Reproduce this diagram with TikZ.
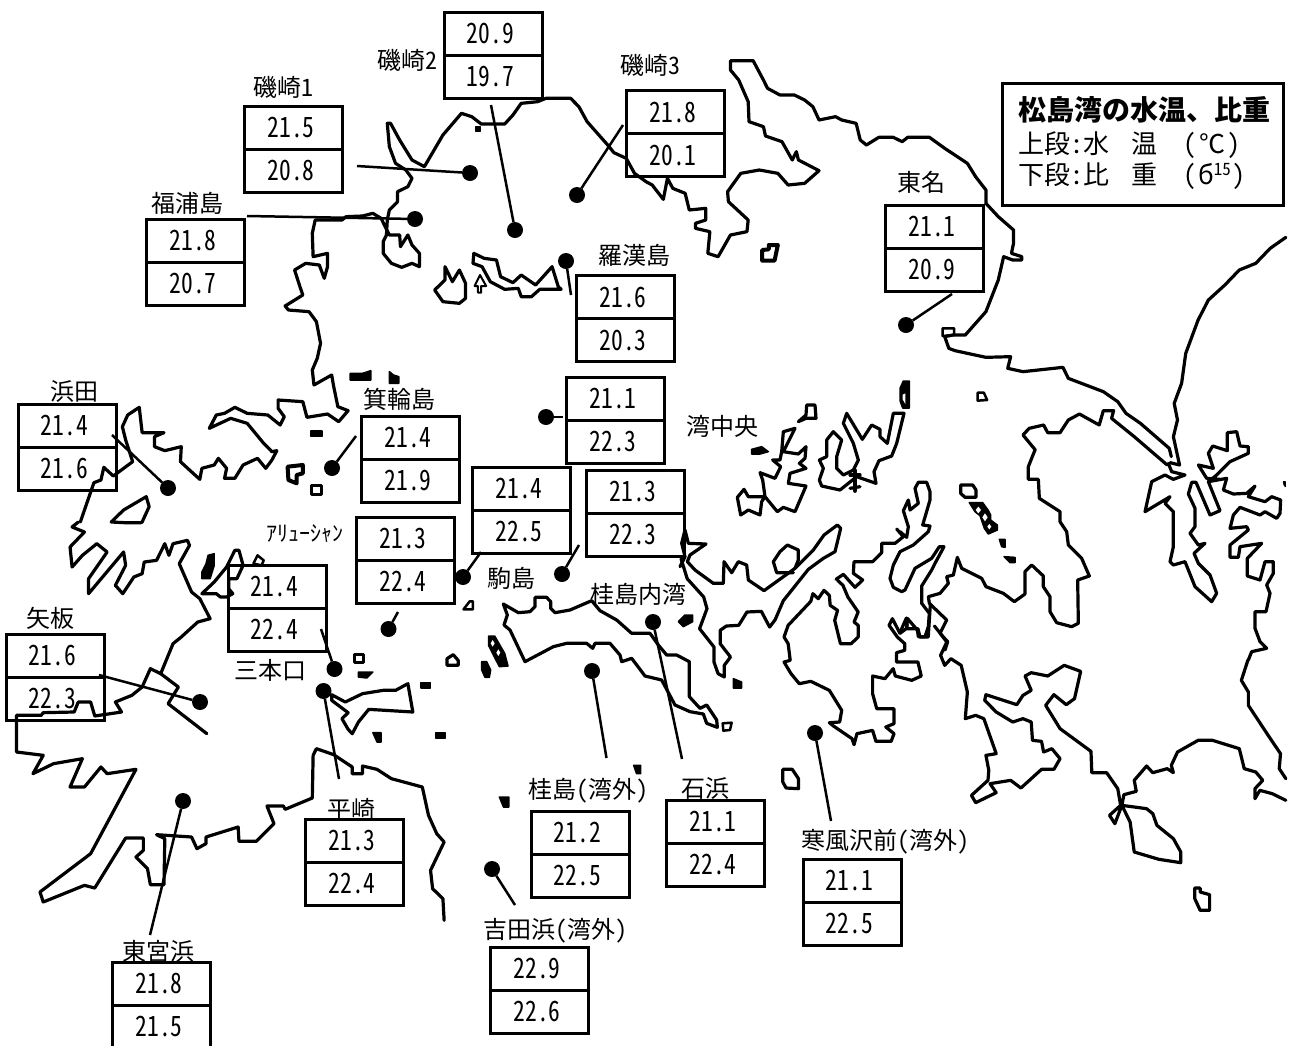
\documentclass[tikz,border=0pt]{standalone}
\usepackage{fontspec}
\setmainfont[RawFeature={+hwid}]{Noto Sans CJK JP}
\newfontfamily\numf[RawFeature={+hwid},FakeStretch=0.84]{Noto Sans CJK JP}
\newcommand\Pc[2]{\draw[coast,#1] plot coordinates {#2};}
\newcommand\Pz[2]{\draw[coast,#1] plot coordinates {#2} -- cycle;}
\newcommand\Pf[2]{\draw[coast,fill=black,line width=1.5pt,#1] plot coordinates {#2} -- cycle;}
\newcommand\Stn[5]{%
  \node[cell,anchor=south] (#1t) at (#2,#3) {\hspace*{-5pt}\raisebox{-1.5pt}{#4}};
  \node[cell,anchor=north] (#1b) at (#2,#3) {\hspace*{-5pt}\raisebox{-1.5pt}{#5}};}
\newcommand\Lead[3]{%
  \node[dot] (#1) at (#2) {};
  \coordinate (#1e) at (#3);
  \draw[leader] (#1) -- (#1e);}
\tikzset{
  coast/.style={line width=3.2pt,line join=round,line cap=round,black},
  leader/.style={line width=2.5pt,black},
  cell/.style={draw,line width=3pt,minimum width=98pt,minimum height=43pt,inner sep=0pt,outer sep=0pt,font=\numf\fontsize{28}{28}\selectfont},
  dot/.style={circle,fill=black,minimum size=16pt,inner sep=0pt,outer sep=0pt},
  lab/.style={inner sep=0pt,outer sep=0pt,font=\fontsize{24}{24}\selectfont},
  za/.style={x=0.412pt,y=-0.33333pt},
  zb/.style={x=0.412pt,y=-0.33333pt,shift={(646pt,0pt)}},
  zc/.style={x=0.412pt,y=-0.33333pt,shift={(0pt,-522pt)}},
  zd/.style={x=0.412pt,y=-0.33333pt,shift={(646pt,-522pt)}},
  ze/.style={x=0.33333pt,y=-0.33333pt,shift={(1090pt,-420pt)}},
  zf/.style={x=0.33333pt,y=-0.33333pt,shift={(680pt,-380pt)}},
  zg/.style={x=0.33333pt,y=-0.33333pt,shift={(900pt,-450pt)}},
  zh/.style={x=0.33333pt,y=-0.33333pt,shift={(480pt,-590pt)}},
}
\begin{document}
\begin{tikzpicture}[x=1pt,y=-1pt]
\useasboundingbox (0,0) rectangle (1292,1045);
% north-west shore
\Pc{za}{(1568,545) (1540,520) (1520,475) (1490,458) (1475,435) (1450,400) (1425,365) (1405,320) (1385,295) (1325,295) (1305,305) (1265,310) (1245,345) (1225,372) (1168,372) (1145,350) (1120,340) (1075,405) (1030,500) (1000,480) (970,420) (948,370) (940,370) (945,440) (960,490) (985,510) (1000,535) (990,560) (965,575) (965,605) (945,630) (940,660) (938,705) (930,725) (930,760) (950,790) (975,802) (1000,790) (1018,800) (1018,760) (1000,735) (990,705) (972,740) (970,705) (945,705) (925,655) (905,640) (880,648) (840,650) (830,660) (765,660) (758,700) (760,770) (795,760) (795,800) (787,835) (775,795) (742,790) (715,810) (728,860) (735,885) (692,918) (700,930) (750,935) (768,965) (778,1030) (770,1075) (758,1110) (762,1155) (805,1125) (810,1160) (820,1220) (845,1232) (822,1265) (795,1242) (745,1252) (735,1205) (675,1200) (675,1225) (690,1250) (680,1275) (650,1245) (600,1240) (570,1222) (545,1240) (525,1245) (508,1285) (560,1255) (600,1270) (640,1330) (660,1355) (672,1352) (660,1380) (645,1405) (625,1375) (590,1395) (570,1435) (545,1435) (550,1405) (530,1375) (520,1395) (490,1405) (485,1438) (460,1410) (438,1385) (440,1340) (400,1352) (375,1340) (375,1310) (398,1298) (345,1298) (338,1222) (310,1245) (297,1280) (305,1320) (322,1385) (275,1428) (252,1402) (245,1440) (228,1448) (205,1530) (195,1566)}
\Pc{zc}{(190,0) (175,15) (205,30) (170,75) (175,135) (200,100) (235,65) (260,90) (215,170) (215,215) (300,90) (305,130) (280,190) (298,215) (325,165) (345,155) (350,120) (380,115) (400,65) (410,100) (420,65) (455,55) (460,70) (435,125) (465,210) (485,230) (510,290) (480,300) (440,345) (420,365) (390,455) (365,440) (345,495) (320,520) (280,540) (295,570) (230,582) (220,540) (190,540) (180,570) (105,572) (100,580) (40,580) (40,690) (105,700) (80,755) (130,725) (200,710) (170,795) (205,795) (245,735) (260,755) (330,742) (220,995) (97,1110) (105,1140) (205,1090) (230,1098) (305,948) (348,948) (348,985) (330,1005) (358,1040) (365,1088) (398,1088) (400,950) (380,938) (465,945) (478,980) (500,965) (500,945) (578,915) (580,958) (622,958) (665,905) (648,852) (688,852) (692,862) (758,828) (760,700) (768,680) (810,698) (855,735) (855,755) (880,755) (880,732) (915,742) (950,770) (1025,795) (1040,880) (1060,935) (1078,960) (1045,1045) (1050,1100) (1075,1130) (1078,1195)}
\Pc{zc}{(390,455) (433,495) (408,545) (502,635)}
\Pz{za}{(270,1566) (300,1530) (355,1490) (362,1520) (345,1566) (342,1568) (302,1568)}
\Pf{za}{(1155,380) (1165,380) (1165,395) (1155,395)}
% Matsushima north shore
\Pc{zb}{(0,545) (15,555) (42,598) (52,535) (65,565) (95,580) (105,630) (145,625) (145,660) (120,670) (120,685) (155,695) (150,760) (175,770) (205,705) (245,695) (248,660) (200,605) (198,575) (230,520) (275,510) (320,520) (345,555) (385,550) (420,512) (370,480) (365,455) (355,480) (330,425) (290,408) (285,380) (250,365) (248,305) (225,240) (205,210) (205,182) (260,182) (285,240) (295,265) (325,285) (360,285) (385,300) (405,320) (420,360) (460,350) (475,360) (510,370) (520,420) (535,435) (565,412) (600,412) (622,425) (635,412) (688,412) (725,445) (780,490) (800,530) (825,570) (825,610) (855,650) (892,690) (892,730) (887,760) (912,770) (912,780) (890,780) (868,770) (855,840) (825,935) (775,1005) (745,1005) (725,1010) (735,1045) (750,1052) (825,1072) (885,1070) (878,1105) (915,1115) (1012,1102) (1025,1135) (1110,1175) (1145,1205) (1165,1240) (1200,1270) (1270,1345) (1275,1370)}
\Pz{zb,line width=2.5pt}{(720,985) (748,985) (748,1005) (720,1008)}
% east land
\Pc{zb}{(1553,712) (1515,745) (1480,790) (1440,810) (1405,855) (1365,900) (1340,960) (1310,1060) (1300,1150) (1282,1210) (1290,1260) (1280,1310) (1295,1395) (1272,1388)}
% right-hand land and channel
\Pc{ze}{(235,130) (245,155) (285,165) (250,178) (225,165) (185,185) (165,275) (240,230) (225,250) (250,275) (250,380) (240,425) (250,435) (285,425) (315,500) (365,545) (380,520) (360,465) (325,430) (312,400) (345,370) (325,375) (300,340) (315,320) (315,265) (295,222) (305,187) (318,187) (360,285) (390,272) (355,185) (410,175) (400,210) (430,222) (470,220) (495,198) (475,230) (525,245) (545,230) (572,240) (570,280) (560,295) (525,275) (510,285) (450,262) (430,285) (420,325) (470,320) (475,330) (420,375) (420,412) (445,412) (450,380) (515,370) (472,415) (472,468) (510,480) (525,425) (550,425) (550,460) (530,495) (540,520) (528,575) (495,575) (495,625) (510,665) (530,685) (485,695) (475,720)}
\Pc{ze}{(355,185) (380,165) (420,125) (475,100) (475,80) (450,78) (440,35) (412,38) (412,92) (368,78) (355,100) (370,145) (325,135) (350,175) (390,178)}
\Pc{zd}{(1461,414) (1445,475) (1462,510) (1462,550) (1510,640) (1540,695) (1537,740) (1553,770)}
\Pf{ze,line width=1pt}{(580,185) (586,185) (586,200) (582,195)}
% Miyato
\Pc{zb}{(1265,1395) (1185,1310) (1130,1255) (1135,1232) (1110,1232) (1100,1275) (1052,1242) (1025,1260) (1005,1298) (975,1298) (965,1275) (930,1285) (915,1305) (945,1350)}
\Pc{zg}{(405,0) (385,50) (385,88) (415,88) (418,145) (480,185) (480,215) (500,245) (505,285) (545,325) (568,378) (533,390) (535,520) (515,530) (470,518) (450,485) (450,440) (430,410) (430,378) (395,345) (375,365) (375,432) (343,455) (310,430) (258,410) (245,385) (185,355) (172,322) (160,375) (140,380) (145,400) (120,430) (85,440) (88,460) (140,510) (120,550) (143,575) (135,600)}
\Pc{zd}{(700,312) (715,335) (730,360) (715,400) (725,430) (740,410) (765,430) (780,510) (775,590) (800,580) (820,590) (850,695) (825,700) (832,745) (830,775) (790,820) (800,842) (850,812) (835,785) (885,775) (910,798) (960,742) (990,742) (1005,710) (985,680) (965,690) (960,658) (938,655) (935,600) (915,590) (890,600) (850,570) (822,535) (825,518) (900,548) (915,520) (935,505) (920,462) (935,452) (975,462) (1015,430) (1055,448) (1040,530) (1020,548) (990,518) (970,550) (1005,620) (1080,688) (1082,752) (1118,752) (1145,800) (1152,850) (1125,880) (1138,905) (1155,850) (1215,860) (1230,875) (1240,910) (1280,950) (1298,990) (1298,1022) (1245,1012) (1185,990) (1175,900) (1155,850) (1160,818) (1190,808) (1185,775) (1215,732) (1230,752) (1265,740) (1280,752) (1275,730) (1290,690) (1340,655) (1375,655) (1440,680) (1452,740) (1480,750) (1497,775) (1478,800) (1478,830) (1490,805) (1520,815) (1553,835)}
% centre islands
\Pz{zf}{(305,215) (310,155) (345,145) (310,215) (355,222) (378,200) (375,235) (358,250) (378,265) (330,280) (325,310) (378,318) (345,395) (310,382) (292,395) (255,350) (248,300) (240,278) (285,295) (302,260) (278,240) (300,240)}
\Pc{zf}{(252,350) (205,350) (192,328) (172,352) (182,405) (205,390) (240,405) (245,365) (255,350)}
\Pz{zf}{(460,155) (485,180) (470,230) (470,265) (490,285) (520,270) (535,240) (520,190) (490,130) (500,100) (547,178) (575,135) (600,148) (600,170) (622,190) (640,100) (672,100) (650,190) (635,228) (597,242) (582,275) (588,310) (530,290) (480,330) (425,318) (418,300) (430,265) (418,240) (440,230) (440,180)}
\Pc{zf,line width=4.5pt}{(525,272) (525,332)}
\Pc{zf}{(510,285) (540,285)}
\Pc{zf}{(510,325) (540,320)}
\Pf{zf}{(660,25) (670,3) (688,3) (688,84) (668,84) (660,62)}
\fill[white,zf] (668,44) -- (676,40) -- (676,72) -- (668,58) -- cycle;
\Pz{zf}{(355,125) (378,105) (380,75) (405,75) (408,115) (378,115)}
\Pf{zf}{(215,222) (215,208) (245,200) (265,215) (240,222)}
% Katsurashima inner bay coast and narrow peninsula
\Pc{zf}{(285,720) (310,662) (385,568) (430,535) (465,515) (482,445) (472,435) (432,465) (400,510) (345,565) (252,632) (205,600) (200,555) (175,545) (155,578) (132,545) (130,610) (100,610) (45,570) (22,545) (30,525) (78,492) (25,490) (15,450) (5,490) (15,530) (0,560)}
\Pc{zf}{(340,578) (290,578) (280,545) (300,515) (322,495) (355,510) (355,540) (345,565)}
\Pc{zd}{(85,110) (100,170) (140,225) (148,260) (130,320) (165,375) (165,420) (175,455) (190,465) (190,430) (205,405) (180,365) (180,325) (195,312) (225,310) (245,270) (280,268) (300,315) (313,294)}
% middle coast
\Pc{zf}{(468,598) (490,583) (525,622) (548,600) (520,580) (522,545) (578,545) (605,518) (605,490) (645,490) (670,470) (650,447)}
\Pc{zg}{(0,305) (40,285) (85,245) (90,228) (68,225) (90,150) (90,125) (80,97) (55,97) (45,115) (55,160) (30,180) (25,150) (10,182) (25,230) (20,262) (0,245)}
\Pc{zg}{(0,305) (-20,345) (-30,385) (-20,412) (5,425) (15,420) (45,355) (95,325) (118,290) (132,290) (105,340) (95,360) (65,408) (65,460) (88,490) (85,530) (75,560) (55,560) (52,540) (22,505) (20,535) (0,550)}
\Pc{zd}{(616,333) (598,290) (590,310) (610,345) (628,365) (628,385) (608,392) (608,420) (660,420) (668,462) (645,475) (605,462) (600,440) (580,470) (550,462) (550,515) (560,560) (602,560) (602,605) (582,615) (602,635) (595,658) (558,658) (550,625) (512,635) (505,668) (500,650) (455,612) (445,602) (470,600) (475,565) (445,505) (400,478) (372,485) (352,455) (335,420) (350,415) (345,365) (335,345) (345,310) (400,238) (405,215) (418,230) (432,205) (445,220) (447,250) (465,265) (458,295) (472,365) (498,365) (515,345) (515,310) (505,300) (515,270) (490,225) (478,190) (465,175)}
\Pc{zd}{(616,333) (632,288) (634,320) (660,320) (665,345) (685,345) (690,250)}
% chain islands
\Pz{zg}{(182,105) (218,105) (228,120) (228,142) (195,142) (182,130)}
\Pf{zg}{(208,158) (248,158) (264,180) (272,195) (272,210) (292,225) (292,240) (265,252) (253,235) (240,197) (225,185)}
\fill[white,zg] (235,170) -- (243,180) -- (235,190) -- (227,180) -- cycle;
\fill[white,zg] (255,190) -- (263,202) -- (255,214) -- (247,202) -- cycle;
\fill[white,zg] (268,222) -- (274,230) -- (268,238) -- (262,230) -- cycle;
\Pf{zg}{(298,268) (315,268) (315,292) (305,290)}
\Pf{zg}{(312,320) (345,322) (345,338) (330,338)}
% Katsurashima
\Pz{zh}{(70,42) (115,68) (150,65) (165,50) (165,22) (200,22) (212,35) (212,55) (225,68) (270,60) (335,32) (360,62) (410,90) (455,130) (510,130) (535,165) (560,195) (590,195) (628,215) (628,320) (660,355) (680,345) (710,390) (712,412) (680,400) (670,372) (630,365) (585,345) (545,270) (495,258) (455,205) (425,215) (420,195) (390,160) (345,160) (338,175) (320,160) (260,160) (220,170) (135,215) (90,120) (72,105) (82,75)}
\Pz{zh,line width=2.5pt}{(728,400) (755,398) (750,420) (730,422)}
\Pf{zh}{(26,138) (44,138) (74,190) (84,228) (58,230) (26,167)}
\fill[white,zh] (38,150) -- (44,160) -- (38,170) -- (32,160) -- cycle;
\fill[white,zh] (55,178) -- (61,188) -- (55,198) -- (49,188) -- cycle;
\Pf{zh}{(5,215) (20,215) (32,240) (28,262) (15,262) (5,240)}
\Pf{zh}{(595,95) (615,75) (638,75) (638,95) (610,110)}
\Pf{zd}{(212,470) (232,480) (232,498) (212,498)}
% small islands, north
\Pf{za}{(850,1120) (880,1120) (900,1112) (900,1140) (850,1140)}
\Pf{za}{(945,1115) (955,1125) (968,1130) (968,1150) (945,1150)}
\Pf{za}{(755,1293) (782,1293) (782,1310) (755,1310)}
\Pz{za,line width=4pt}{(698,1400) (735,1395) (735,1420) (720,1425) (720,1450) (700,1440)}
\Pz{za,line width=3pt}{(757,1457) (780,1457) (780,1482) (757,1482)}
\Pz{za}{(1055,870) (1080,840) (1080,800) (1098,845) (1115,810) (1130,850) (1130,895) (1115,910) (1075,905)}
\Pz{za}{(1150,760) (1175,775) (1205,780) (1215,830) (1245,848) (1265,825) (1300,855) (1340,800) (1355,860) (1362,868) (1310,868) (1290,890) (1265,890) (1258,865) (1225,868) (1190,845) (1170,800) (1148,790)}
\Pz{za,line width=2pt}{(1165,825) (1180,858) (1168,858) (1168,878) (1160,878) (1160,858) (1152,858)}
\Pz{zb,line width=4pt}{(282,782) (282,750) (298,748) (298,735) (320,735) (312,782)}
\Pz{zb,line width=2.5pt}{(805,1178) (820,1178) (828,1200) (805,1202)}
% small islands, south
\Pf{zc}{(490,150) (500,125) (505,100) (520,95) (520,130) (510,170) (490,170)}
\Pz{zc,line width=2.5pt}{(625,100) (640,115) (635,130) (615,125)}
\Pz{zc}{(490,215) (520,180) (550,135) (570,85) (580,85) (590,130) (575,170) (555,170) (555,200) (565,215) (550,225) (535,225) (525,215)}
\Pz{zc,line width=2.5pt}{(1125,262) (1140,238) (1148,238) (1148,262)}
\Pz{zc}{(1085,430) (1085,410) (1100,398) (1112,415) (1112,430)}
\Pz{zc}{(860,398) (882,398) (882,422) (860,422)}
\Pf{zc}{(870,450) (905,450) (890,468) (870,465)}
\Pf{zc}{(1022,482) (1045,482) (1045,498) (1022,498)}
\Pf{zc}{(905,632) (925,632) (925,660) (915,660)}
\Pf{zc}{(1058,632) (1080,632) (1080,650) (1058,650)}
\Pf{zc}{(1212,825) (1235,825) (1235,855) (1222,855)}
\Pf{zc}{(1538,730) (1555,730) (1555,755) (1545,755)}
\Pz{zc}{(805,518) (838,540) (880,515) (930,505) (960,505) (990,485) (1002,570) (895,562) (870,600) (855,635) (845,622) (830,590) (845,572) (805,535)}
\Pz{zd}{(332,742) (355,742) (370,770) (370,800) (340,798) (332,780)}
\Pz{zd}{(1332,1098) (1345,1098) (1345,1110) (1368,1118) (1368,1165) (1345,1165) (1332,1130)}
% stations
\Stn{sa}{293.5}{149}{21.5}{20.8}
\Stn{sb}{493}{55}{20.9}{19.7}
\Stn{sc}{675.5}{133.5}{21.8}{20.1}
\Stn{sd}{195.5}{262}{21.8}{20.7}
\Stn{se}{934.5}{248}{21.1}{20.9}
\Stn{sf}{625.5}{318.5}{21.6}{20.3}
\Stn{sg}{615.5}{420}{21.1}{22.3}
\Stn{sh}{410.5}{459}{21.4}{21.9}
\Stn{si}{67}{447}{21.4}{21.6}
\Stn{sj}{521.5}{510}{21.4}{22.5}
\Stn{sk}{635.5}{513}{21.3}{22.3}
\Stn{sl}{405.5}{560}{21.3}{22.4}
\Stn{sm}{277}{608}{21.4}{22.4}
\Stn{sn}{55}{677}{21.6}{22.3}
\Stn{so}{354.5}{862}{21.3}{22.4}
\Stn{sp}{580}{854}{21.2}{22.5}
\Stn{sq}{715.5}{843}{21.1}{22.4}
\Stn{sr}{852}{902}{21.1}{22.5}
\Stn{ss}{539.5}{990}{22.9}{22.6}
\Stn{st}{161.5}{1005}{21.8}{21.5}
% dots and leaders
\Lead{da}{470,173}{357,166}
\Lead{db}{515,230}{491,105}
\Lead{dc}{577,195}{623,125}
\Lead{dd}{415,219}{247,216}
\Lead{de}{906,325}{952,294}
\Lead{df}{566,261}{571,295}
\Lead{dg}{546,417}{563,417}
\Lead{dh}{332,468}{356,436}
\Lead{di}{168,488}{112,435}
\Lead{dj}{463,577}{481,552}
\Lead{dk}{562,574}{579,545}
\Lead{dl}{388.5,629}{398,612}
\Lead{dm}{334.5,669}{321,629}
\Lead{dn}{200,702}{99,675}
\Lead{do}{323.5,691}{339,779}
\Lead{dp}{592,671}{606.5,758}
\Lead{dq}{653,622}{682,759}
\Lead{dr}{815,733}{831,821}
\Lead{ds}{492,869}{515,905}
\Lead{dt}{183,801}{150,935}
% labels
\node[lab] (l1) at (283.5,87) {磯崎1};
\node[lab] (l2) at (407,60) {磯崎2};
\node[lab] (l3) at (650,65) {磯崎3};
\node[lab] (l4) at (187,203) {福浦島};
\node[lab] (l5) at (921.5,182) {東名};
\node[lab] (l6) at (634,255) {羅漢島};
\node[lab] (l7) at (399,399) {箕輪島};
\node[lab] (l8) at (74.5,391) {浜田};
\node[lab] (l9) at (722.5,426) {湾中央};
\node[lab,font=\fontsize{22}{22}\selectfont] (l10) at (305,534) {ｱﾘｭｰｼｬﾝ};
\node[lab] (l11) at (511,578) {駒島};
\node[lab] (l12) at (638,594) {桂島内湾};
\node[lab] (l13) at (51,618) {矢板};
\node[lab] (l14) at (270,670) {三本口};
\node[lab] (l15) at (351,809) {平崎};
\node[lab] (l16) at (158,951) {東宮浜};
\node[lab] (l17) at (588,791) {桂島(湾外)};
\node[lab] (l18) at (705,788) {石浜};
\node[lab] (l19) at (885.5,842) {寒風沢前(湾外)};
\node[lab] (l20) at (555.5,931) {吉田浜(湾外)};
% legend
\node[draw,line width=3pt,minimum width=281pt,minimum height=122pt,inner sep=0pt,outer sep=0pt] (leg) at (1142.5,144) {};
\node[lab,anchor=west,font=\bfseries\fontsize{28}{28}\selectfont] (leg1) at (1018,110) {松島湾の水温、比重};
\node[lab,anchor=west,font=\fontsize{26}{26}\selectfont] (leg2) at (1018,145) {上段:水\hspace{22pt}温\hspace{26pt}(\hspace{3pt}℃\hspace{3pt})};
\node[lab,anchor=west,font=\fontsize{26}{26}\selectfont] (leg3) at (1018,176) {下段:比\hspace{22pt}重\hspace{26pt}(\hspace{2pt}б\raisebox{9pt}{\fontsize{17}{17}\selectfont 15}\hspace{2pt})};
\end{tikzpicture}
\end{document}
